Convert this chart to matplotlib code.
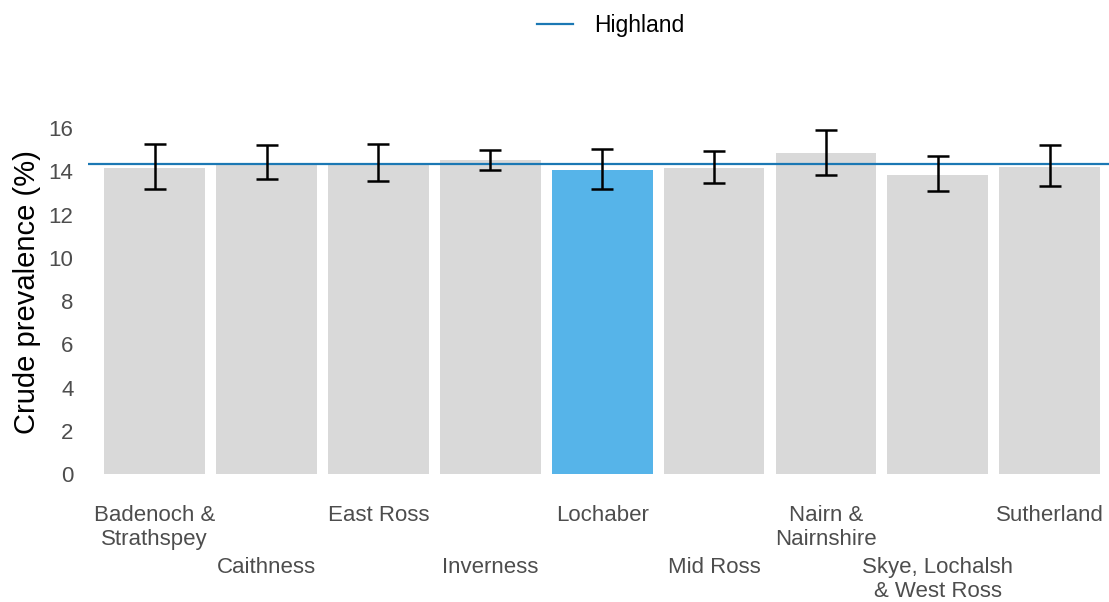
import matplotlib
matplotlib.use("Agg")
import matplotlib.pyplot as plt
import numpy as np

plt.rcParams["font.family"] = ["Liberation Sans", "DejaVu Sans"]

# данные
areas = ["Badenoch &\nStrathspey", "Caithness", "East Ross", "Inverness", "Lochaber",
         "Mid Ross", "Nairn &\nNairnshire", "Skye, Lochalsh\n& West Ross", "Sutherland"]
prevalence = [14.14, 14.31, 14.31, 14.52, 14.06, 14.16, 14.83, 13.84, 14.21]
ci_lower = [13.17, 13.64, 13.55, 14.06, 13.17, 13.46, 13.84, 13.09, 13.32]
ci_upper = [15.25, 15.21, 15.27, 14.98, 15.02, 14.94, 15.91, 14.71, 15.21]
highland = 14.34
selected = "Lochaber"

x = np.arange(len(areas))
colors = ["#56B4E9" if a == selected else "#D9D9D9" for a in areas]
yerr = [np.array(prevalence) - np.array(ci_lower), np.array(ci_upper) - np.array(prevalence)]

fig = plt.figure(figsize=(11.09, 6.02), dpi=100)
ax = fig.add_axes([0.0789, 0.2126, 0.9211, 0.6213])

ax.bar(x, prevalence, width=0.9, color=colors, zorder=1)
ax.errorbar(x, prevalence, yerr=yerr, fmt="none", ecolor="black", elinewidth=1.8,
            capsize=7.7, capthick=1.8, zorder=3)
ax.axhline(highland, color="#1B78B4", linewidth=1.6, zorder=2, label="Highland")

ax.set_xlim(-0.6, 8.53)
ax.set_ylim(0, 17.3)
ax.set_yticks(range(0, 17, 2))
ax.set_ylabel("Crude prevalence (%)", fontsize=21, color="black")
ax.yaxis.set_label_coords(-0.046, 0.487)
ax.tick_params(axis="y", length=0, labelsize=16, labelcolor="#4D4D4D", pad=10)

ax.set_xticks(x)
ax.set_xticklabels(areas, fontsize=16, color="#4D4D4D", linespacing=1.24)
ax.tick_params(axis="x", length=0)
for i, tick in enumerate(ax.xaxis.get_major_ticks()):
    tick.set_pad(22 if i % 2 == 0 else 59.5)

for s in ax.spines.values():
    s.set_visible(False)

fig.legend(loc="center", bbox_to_anchor=(0.5505, 0.957), frameon=False,
           fontsize=16.5, handlelength=1.6, handletextpad=0.9)

plt.savefig("out.png", dpi=100)
plt.close()
